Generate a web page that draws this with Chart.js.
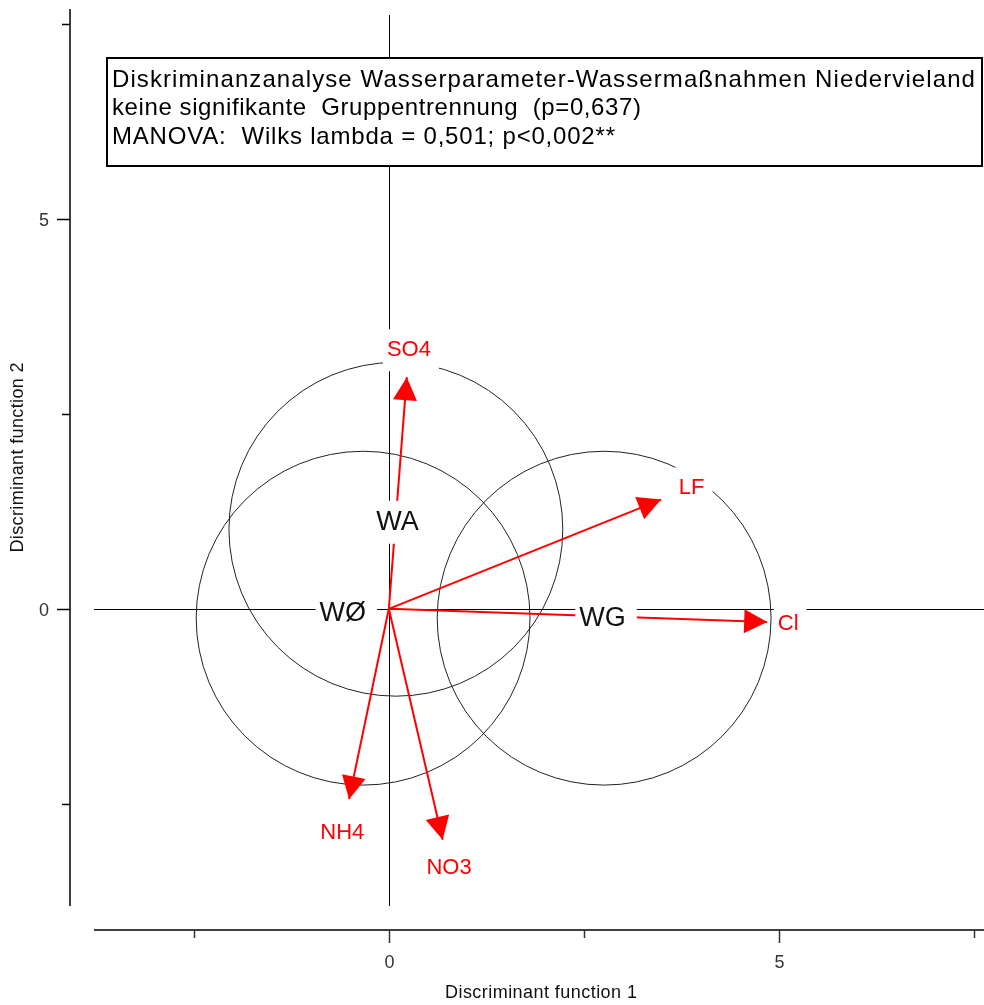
<!DOCTYPE html>
<html>
<head>
<meta charset="utf-8">
<script src="https://cdn.jsdelivr.net/npm/chart.js@4.4.1/dist/chart.umd.min.js"></script>
<style>
  html, body { margin: 0; padding: 0; background: #fff; }
  #wrap { width: 984px; height: 1005px; position: relative; }
</style>
</head>
<body>
<div id="wrap"><canvas id="c"></canvas></div>
<script>
// Structure vectors (discriminant loadings) of the water parameters
const variableNames = ['SO4', 'LF', 'Cl', 'NH4', 'NO3'];
const loadingX = [0.23, 3.49, 4.85, -0.51, 0.69];
const loadingY = [2.97, 1.40, -0.17, -2.44, -2.96];

// Group centroids and their circles
const groupNames = ['WA', 'WØ', 'WG'];
const centroidX = [0.11, -0.59, 2.74];
const centroidY = [1.11, -0.06, -0.13];
const circleCenterX = [0.09, -0.33, 2.76];
const circleCenterY = [1.02, -0.12, -0.12];
const circleRadius = [2.14, 2.14, 2.14];

// Axis ticks
const xTickValues = [-2.5, 0, 2.5, 5, 7.5];
const xTickLabels = ['', '0', '', '5', ''];
const yTickValues = [-2.5, 0, 2.5, 5, 7.5];
const yTickLabels = ['', '0', '', '5', ''];

const xTitle = 'Discriminant function 1';
const yTitle = 'Discriminant function 2';
const titleLines = [
  'Diskriminanzanalyse Wasserparameter-Wassermaßnahmen Niedervieland',
  'keine signifikante  Gruppentrennung  (p=0,637)',
  'MANOVA:  Wilks lambda = 0,501; p<0,002**'
];

const RED = '#ff0000';
const SANS = '"Liberation Sans", Arial, sans-serif';
const NARROW = '"Liberation Sans Narrow", "Liberation Sans", Arial, sans-serif';
const labelGap = { SO4: 28, LF: 33, Cl: 21, NH4: 33, NO3: 28 };

const datasets = variableNames.map((name, i) => ({
  label: name,
  data: [{ x: 0, y: 0 }, { x: loadingX[i], y: loadingY[i] }],
  showLine: true,
  borderColor: RED,
  borderWidth: 2,
  pointRadius: 0,
  fill: false
}));

function labelBox(ctx, text, cx, cy, font, color, padL, padR, padV, fontPx) {
  ctx.font = font;
  const w = ctx.measureText(text).width;
  ctx.fillStyle = '#fff';
  ctx.fillRect(cx - w / 2 - padL, cy - fontPx / 2 - padV, w + padL + padR, fontPx + 2 * padV);
  ctx.fillStyle = color;
  ctx.textAlign = 'center';
  ctx.textBaseline = 'middle';
  ctx.fillText(text, cx, cy);
}

// draws text stretched to a wanted width via letter spacing (or a horizontal scale fallback)
function spacedText(ctx, text, left, cy, targetWidth) {
  const plain = ctx.measureText(text).width;
  const extra = (targetWidth - plain) / Math.max(text.length - 1, 1);
  if ('letterSpacing' in ctx) {
    ctx.letterSpacing = extra.toFixed(2) + 'px';
    ctx.fillText(text, left, cy);
    ctx.letterSpacing = '0px';
  } else {
    ctx.save();
    ctx.translate(left, cy);
    ctx.scale(targetWidth / plain, 1);
    ctx.fillText(text, 0, 0);
    ctx.restore();
  }
}

const biplotDecor = {
  id: 'biplotDecor',
  beforeDatasetsDraw(chart) {
    const { ctx, chartArea: a, scales: { x, y } } = chart;
    ctx.save();
    ctx.strokeStyle = '#000';
    ctx.lineWidth = 1;
    // reference lines through the origin
    const x0 = Math.round(x.getPixelForValue(0)) + 0.5;
    const y0 = Math.round(y.getPixelForValue(0)) + 0.5;
    ctx.beginPath();
    ctx.moveTo(a.left, y0); ctx.lineTo(a.right, y0);
    ctx.moveTo(x0, a.top + 6); ctx.lineTo(x0, a.bottom);
    ctx.stroke();

    // group circles
    ctx.strokeStyle = '#222';
    circleCenterX.forEach((cx, i) => {
      const px = x.getPixelForValue(cx);
      const py = y.getPixelForValue(circleCenterY[i]);
      const rx = x.getPixelForValue(cx + circleRadius[i]) - px;
      const ry = py - y.getPixelForValue(circleCenterY[i] + circleRadius[i]);
      ctx.beginPath();
      ctx.ellipse(px, py, rx, ry, 0, 0, Math.PI * 2);
      ctx.stroke();
    });

    // detached axes
    ctx.strokeStyle = '#000';
    ctx.lineWidth = 1.5;
    const yAxisX = a.left - 24;
    const xAxisY = a.bottom + 24;
    ctx.beginPath();
    ctx.moveTo(yAxisX, a.top); ctx.lineTo(yAxisX, a.bottom);
    ctx.moveTo(a.left, xAxisY); ctx.lineTo(a.right, xAxisY);
    ctx.stroke();
    ctx.fillStyle = '#333';
    ctx.font = '18px ' + NARROW;
    yTickValues.forEach((v, i) => {
      const py = Math.round(y.getPixelForValue(v)) + 0.5;
      const len = yTickLabels[i] ? 13 : 8;
      ctx.beginPath(); ctx.moveTo(yAxisX - len, py); ctx.lineTo(yAxisX, py); ctx.stroke();
      if (yTickLabels[i]) {
        ctx.textAlign = 'right'; ctx.textBaseline = 'middle';
        ctx.fillText(yTickLabels[i], yAxisX - 21, py + 2);
      }
    });
    ctx.strokeStyle = '#333';
    xTickValues.forEach((v, i) => {
      const px = Math.round(x.getPixelForValue(v)) + 0.5;
      const len = xTickLabels[i] ? 13 : 8;
      ctx.beginPath(); ctx.moveTo(px, xAxisY); ctx.lineTo(px, xAxisY + len); ctx.stroke();
      if (xTickLabels[i]) {
        ctx.textAlign = 'center'; ctx.textBaseline = 'middle';
        ctx.fillText(xTickLabels[i], px, xAxisY + 33);
      }
    });

    // axis titles
    ctx.fillStyle = '#111';
    ctx.font = '18px ' + SANS;
    ctx.textAlign = 'left'; ctx.textBaseline = 'middle';
    spacedText(ctx, xTitle, 445, 993, 192);
    ctx.save();
    ctx.translate(18, (a.top + a.bottom) / 2);
    ctx.rotate(-Math.PI / 2);
    spacedText(ctx, yTitle, -95, 0, 190);
    ctx.restore();
    ctx.restore();
  },
  afterDatasetsDraw(chart) {
    const { ctx, scales: { x, y } } = chart;
    ctx.save();
    const ox = x.getPixelForValue(0), oy = y.getPixelForValue(0);

    // arrowheads and variable labels
    variableNames.forEach((name, i) => {
      const tx = x.getPixelForValue(loadingX[i]);
      const ty = y.getPixelForValue(loadingY[i]);
      const ang = Math.atan2(ty - oy, tx - ox);
      const len = 23, half = 12;
      const bx = tx - len * Math.cos(ang), by = ty - len * Math.sin(ang);
      ctx.fillStyle = RED;
      ctx.beginPath();
      ctx.moveTo(tx, ty);
      ctx.lineTo(bx + half * Math.sin(ang), by - half * Math.cos(ang));
      ctx.lineTo(bx - half * Math.sin(ang), by + half * Math.cos(ang));
      ctx.closePath();
      ctx.fill();
      const g = labelGap[name];
      labelBox(ctx, name, tx + g * Math.cos(ang), ty + g * Math.sin(ang) + 1,
        '22px ' + SANS, RED, 4, 8, 10, 22);
    });

    // group labels
    groupNames.forEach((name, i) => {
      labelBox(ctx, name, x.getPixelForValue(centroidX[i]), y.getPixelForValue(centroidY[i]),
        '27px ' + SANS, '#111', 4, 11, 8, 27);
    });

    // title box
    ctx.fillStyle = '#fff';
    ctx.fillRect(107, 58, 875, 108);
    ctx.strokeStyle = '#000';
    ctx.lineWidth = 2;
    ctx.strokeRect(107, 58, 875, 108);
    ctx.fillStyle = '#000';
    ctx.font = '24px ' + SANS;
    ctx.textAlign = 'left'; ctx.textBaseline = 'middle';
    const widths = [863, 529, 503];
    titleLines.forEach((t, i) => spacedText(ctx, t, 112, 80 + i * 28.5, widths[i]));
    ctx.restore();
  }
};

new Chart(document.getElementById('c'), {
  type: 'scatter',
  data: { datasets },
  options: {
    responsive: true,
    maintainAspectRatio: false,
    animation: false,
    events: [],
    layout: { padding: { left: 94, right: 0, top: 9, bottom: 99 } },
    scales: {
      x: { type: 'linear', min: -3.78, max: 7.63, display: false },
      y: { type: 'linear', min: -3.81, max: 7.69, display: false }
    },
    plugins: { legend: { display: false }, tooltip: { enabled: false } }
  },
  plugins: [biplotDecor]
});
</script>
</body>
</html>
